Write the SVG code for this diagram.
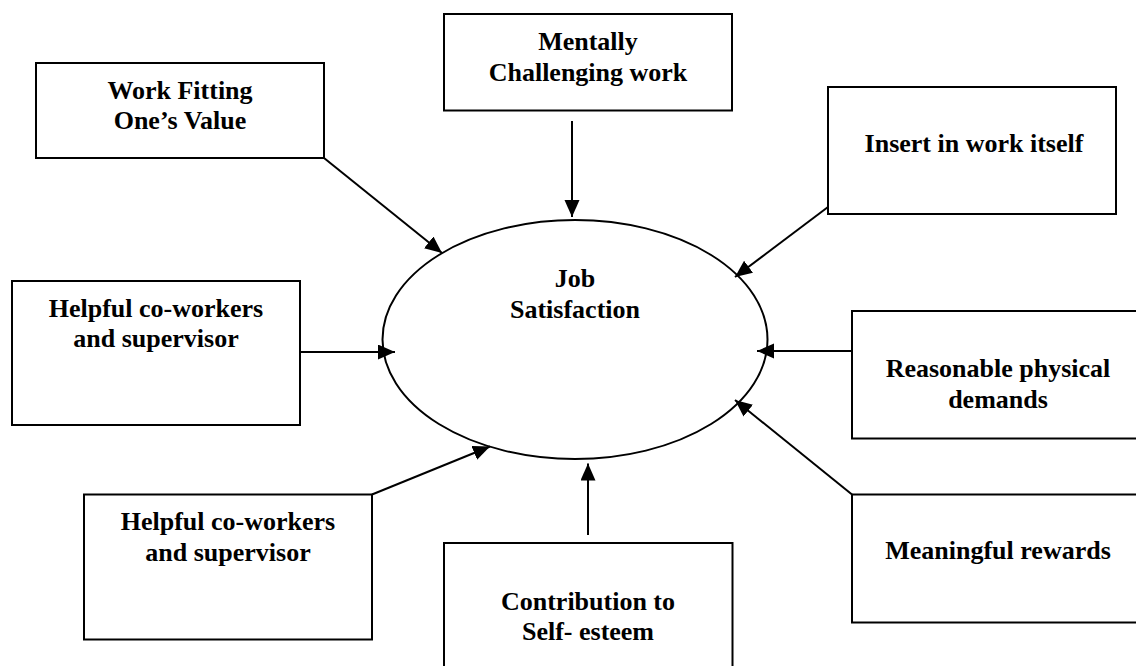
<svg xmlns="http://www.w3.org/2000/svg" width="1136" height="666" viewBox="0 0 1136 666">
<style>
.box{fill:#fff;stroke:#000;stroke-width:2}
.lbl{font-family:"Liberation Serif","Times New Roman",serif;font-weight:bold;font-size:26px;fill:#000;text-anchor:middle}
.con{stroke:#000;stroke-width:2;fill:none;marker-end:url(#ah)}
</style>
<defs>
<marker id="ah" markerUnits="userSpaceOnUse" markerWidth="18" markerHeight="16" refX="17" refY="7.5" orient="auto">
<path d="M0,0 L17,7.5 L0,15 z" fill="#000"/>
</marker>
</defs>
<rect width="1136" height="666" fill="#fff"/>
<g id="job-satisfaction">
<ellipse cx="575" cy="339.5" rx="192.5" ry="119.5" fill="none" stroke="#000" stroke-width="2"/>
<text class="lbl" x="575" y="287">Job</text>
<text class="lbl" x="575" y="318">Satisfaction</text>
</g>
<g id="work-fitting">
<rect class="box" x="36" y="63" width="288" height="95"/>
<text class="lbl" x="180" y="99">Work Fitting</text>
<text class="lbl" x="180" y="129">One’s Value</text>
</g>
<g id="mentally-challenging">
<rect class="box" x="444" y="14" width="288" height="96.5"/>
<text class="lbl" x="588" y="50">Mentally</text>
<text class="lbl" x="588" y="81">Challenging work</text>
</g>
<g id="insert-in-work">
<rect class="box" x="828" y="87" width="288" height="127"/>
<text class="lbl" x="974" y="152">Insert in work itself</text>
</g>
<g id="helpful-1">
<rect class="box" x="12" y="281" width="288" height="144"/>
<text class="lbl" x="156" y="317">Helpful co-workers</text>
<text class="lbl" x="156" y="347">and supervisor</text>
</g>
<g id="reasonable-physical">
<rect class="box" x="852" y="311" width="288" height="127.5"/>
<text class="lbl" x="998" y="377">Reasonable physical</text>
<text class="lbl" x="998" y="408">demands</text>
</g>
<g id="helpful-2">
<rect class="box" x="84" y="494.5" width="288" height="145"/>
<text class="lbl" x="228" y="530">Helpful co-workers</text>
<text class="lbl" x="228" y="561">and supervisor</text>
</g>
<g id="contribution">
<rect class="box" x="444" y="543" width="288.5" height="145"/>
<text class="lbl" x="588" y="610">Contribution to</text>
<text class="lbl" x="588" y="640">Self- esteem</text>
</g>
<g id="meaningful-rewards">
<rect class="box" x="852" y="494.5" width="288" height="128"/>
<text class="lbl" x="998" y="559">Meaningful rewards</text>
</g>
<g id="connectors">
<line class="con" x1="324" y1="158" x2="442" y2="253"/>
<line class="con" x1="572" y1="121" x2="572" y2="217"/>
<line class="con" x1="828" y1="207" x2="735" y2="277"/>
<line class="con" x1="300" y1="352" x2="395" y2="352"/>
<line class="con" x1="852" y1="351" x2="757" y2="351"/>
<line class="con" x1="372" y1="494.5" x2="490" y2="446.5"/>
<line class="con" x1="588" y1="535" x2="588" y2="463.5"/>
<line class="con" x1="852" y1="494.5" x2="735" y2="400"/>
</g>
</svg>
